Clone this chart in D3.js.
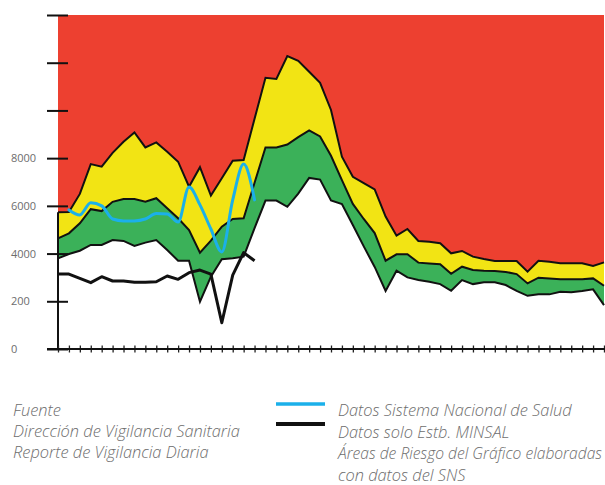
<!DOCTYPE html>
<html>
<head>
<meta charset="utf-8">
<script src="https://cdn.jsdelivr.net/npm/d3@7"></script>
<style>
  html, body { margin: 0; padding: 0; background: #fff; }
  svg { display: block; }
  .lbl { font-family: "Open Sans", "Lato", sans-serif; fill: #6d6d6d; }
</style>
</head>
<body>
<svg id="chart" width="605" height="485"></svg>
<script>
// Days (index of each reporting day on the x axis)
const days = d3.range(51);

// Upper limit of the yellow band (boundary red / yellow)
const limiteAlto = [5730, 5740, 6500, 7750, 7640, 8220, 8690, 9080, 8450, 8660,
  8270, 7850, 6800, 7620, 6430, 7160, 7890, 7920, 9650, 11370,
  11320, 12280, 12080, 11620, 11160, 10020, 8060, 7220, 6950, 6690,
  5550, 4750, 5030, 4530, 4500, 4430, 4010, 4110, 3870, 3770,
  3690, 3690, 3690, 3240, 3700, 3660, 3590, 3590, 3590, 3480, 3630];

// Upper limit of the green band (boundary yellow / green)
const limiteMedio = [4640, 4850, 5270, 5860, 5780, 6170, 6290, 6290, 6170, 6320,
  5900, 5480, 4990, 4040, 4540, 5130, 5450, 5480, 6970, 8450,
  8450, 8570, 8880, 9160, 8910, 8100, 7080, 6080, 5450, 4860,
  3700, 3970, 3970, 3620, 3580, 3550, 3150, 3450, 3310, 3280,
  3270, 3230, 3140, 2750, 2990, 2950, 2920, 2920, 2920, 2960, 2650];

// Lower limit of the green band (boundary green / white)
const limiteBajo = [3800, 3980, 4120, 4360, 4360, 4570, 4530, 4320, 4460, 4570,
  4150, 3700, 3700, 1980, 3030, 3760, 3800, 3870, 5070, 6220,
  6220, 5960, 6510, 7170, 7100, 6230, 6080, 5200, 4300, 3440,
  2430, 3280, 3000, 2890, 2820, 2720, 2440, 2890, 2720, 2800,
  2800, 2680, 2440, 2230, 2290, 2290, 2400, 2380, 2430, 2500, 1840];

// Datos Sistema Nacional de Salud (starts on the second day)
const sns = [null, 5830, 5620, 6130, 6000, 5450, 5370, 5370, 5450, 5680,
  5660, 5320, 6790, 6040, 5030, 4070, 6250, 7750, 6250];

// Datos solo Estb. MINSAL
const minsal = [3140, 3140, 2960, 2780, 3030, 2850, 2850, 2800, 2800, 2820,
  3060, 2920, 3200, 3310, 3140, 1100, 3100, 4040, 3700];

// Y axis ticks and their printed labels
const yTicks = [0, 2000, 4000, 6000, 8000, 10000, 12000, 14000];
const yLabels = ["0", "200", "4000", "6000", "8000", "", "", ""];

const fuente = ["Fuente", "Dirección de Vigilancia Sanitaria", "Reporte de Vigilancia Diaria"];
const leyenda = ["Datos Sistema Nacional de Salud", "Datos solo Estb. MINSAL",
  "Áreas de Riesgo del Gráfico elaboradas", "con datos del SNS"];

const C = { red: "#ED4030", yellow: "#F2E414", green: "#3BB159", blue: "#1BB0EA" };

const svg = d3.select("#chart");
const x = d3.scaleLinear().domain([0, 50]).range([58, 604]);
const y = d3.scaleLinear().domain([0, 14000]).range([349, 15]);

const band = (top, bottom) => d3.area()
  .x(i => x(i))
  .y1(i => y(typeof top === "number" ? top : top[i]))
  .y0(i => y(bottom[i]))
  .curve(d3.curveLinear);

svg.append("path").datum(days).attr("fill", C.red).attr("d", band(14000, limiteAlto));
svg.append("path").datum(days).attr("fill", C.yellow).attr("d", band(limiteAlto, limiteMedio));
svg.append("path").datum(days).attr("fill", C.green).attr("d", band(limiteMedio, limiteBajo));

const edge = arr => d3.line().x(i => x(i)).y(i => y(arr[i]))(days);
[limiteAlto, limiteMedio, limiteBajo].forEach(arr => {
  svg.append("path").attr("d", edge(arr))
    .attr("fill", "none").attr("stroke", "#111").attr("stroke-width", 2)
    .attr("stroke-linejoin", "miter");
});

// vertical axis line below the red area
svg.append("line")
  .attr("x1", x(0)).attr("x2", x(0))
  .attr("y1", y(limiteAlto[0])).attr("y2", y(0))
  .attr("stroke", "#111").attr("stroke-width", 2);

// MINSAL line
svg.append("path")
  .attr("d", d3.line().x((d, i) => x(i)).y(d => y(d))(minsal))
  .attr("fill", "none").attr("stroke", "#111").attr("stroke-width", 3)
  .attr("stroke-linejoin", "round");

// SNS line
svg.append("path")
  .attr("d", d3.line().defined(d => d !== null).x((d, i) => x(i)).y(d => y(d))
    .curve(d3.curveMonotoneX)(sns))
  .attr("fill", "none").attr("stroke", C.blue).attr("stroke-width", 3)
  .attr("stroke-linecap", "round");

// Y axis
const gy = svg.append("g").attr("transform", `translate(${x(0)},0)`)
  .call(d3.axisLeft(y).tickValues(yTicks).tickFormat((d, i) => yLabels[i]).tickSize(11));
gy.select(".domain").remove();
gy.selectAll(".tick line").attr("x1", 10).attr("stroke", "#111").attr("stroke-width", 2);
gy.selectAll(".tick text").attr("x", -47).attr("text-anchor", "start")
  .attr("class", "lbl").style("font-size", "11px");

// X axis
const gx = svg.append("g").attr("transform", `translate(0,${y(0)})`)
  .call(d3.axisBottom(x).tickValues(days).tickFormat("").tickSize(3.5));
gx.select(".domain").remove();
gx.selectAll(".tick line").attr("y1", -3.5).attr("stroke", "#222").attr("stroke-width", 1.3);
svg.append("line").attr("x1", 47).attr("x2", 605).attr("y1", y(0)).attr("y2", y(0))
  .attr("stroke", "#111").attr("stroke-width", 2);

// Source text
fuente.forEach((t, i) => {
  svg.append("text").attr("class", "lbl").attr("x", 13).attr("y", 416 + i * 21)
    .style("font-size", "16.4px").style("font-style", "italic").style("font-weight", 300)
    .text(t);
});

// Legend
svg.append("line").attr("x1", 276).attr("x2", 325).attr("y1", 404).attr("y2", 404)
  .attr("stroke", C.blue).attr("stroke-width", 3.5);
svg.append("line").attr("x1", 276).attr("x2", 325).attr("y1", 424).attr("y2", 424)
  .attr("stroke", "#111").attr("stroke-width", 4);
leyenda.forEach((t, i) => {
  const txt = svg.append("text").attr("class", "lbl").attr("x", 338).attr("y", 416 + i * 21.5)
    .style("font-size", "16.4px").style("font-style", "italic").style("font-weight", 300)
    .text(t);
  // keep the long line inside the right edge
  if (i === 2) txt.attr("textLength", 264).attr("lengthAdjust", "spacingAndGlyphs");
});
</script>
</body>
</html>
